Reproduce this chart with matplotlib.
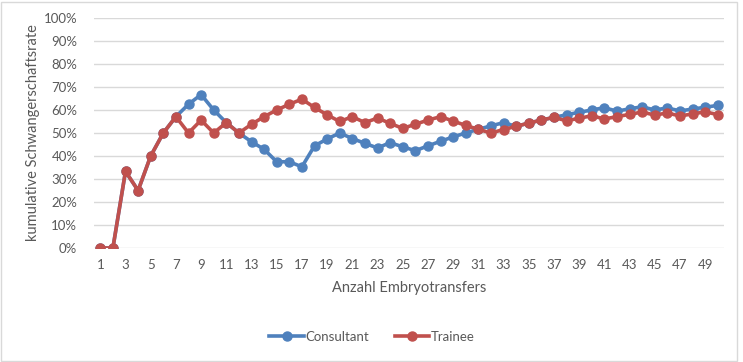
import numpy as np
import matplotlib
matplotlib.use('Agg')
import matplotlib.pyplot as plt
from matplotlib.patches import Rectangle
from matplotlib.ticker import PercentFormatter

plt.rcParams['font.family'] = ['Lato', 'DejaVu Sans']

# Daten (kumulative Rate in %)
transfers = list(range(1, 51))
consultant = [0, 0, 33.3, 25, 40, 50, 57.1, 62.5, 66.7, 60,
              54.5, 50, 46.2, 42.9, 37.5, 37.5, 35.3, 44.4, 47.4, 50,
              47.6, 45.5, 43.5, 45.8, 44, 42.3, 44.4, 46.4, 48.3, 50,
              51.6, 53.1, 54.5, 52.9, 54.3, 55.6, 56.8, 57.9, 59, 60,
              61, 59.5, 60.5, 61.4, 60, 60.9, 59.6, 60.4, 61.2, 62]
trainee = [0, 0, 33.3, 25, 40, 50, 57.1, 50, 55.6, 50,
           54.5, 50, 53.8, 57.1, 60, 62.5, 64.7, 61.1, 57.9, 55,
           57.1, 54.5, 56.5, 54.2, 52, 53.8, 55.6, 57.1, 55.2, 53.3,
           51.6, 50, 51.5, 52.9, 54.3, 55.6, 56.8, 55.3, 56.4, 57.5,
           56.1, 57.1, 58.1, 59.1, 57.8, 58.7, 57.4, 58.3, 59.2, 58]
xticks = transfers[::2]

grau = '#595959'
fig = plt.figure(figsize=(7.43, 3.62), dpi=100)
ax = fig.add_axes([94/743, 1 - 248/362, 630/743, 230/362])

ax.plot(transfers, consultant, color='#4F81BD', lw=2.6, marker='o', ms=6.5,
        label='Consultant', zorder=3)
ax.plot(transfers, trainee, color='#C0504D', lw=2.6, marker='o', ms=6.5,
        label='Trainee', zorder=4)

ax.set_xlim(0.5, 50.5)
ax.set_ylim(0, 100)
ax.set_yticks(np.arange(0, 101, 10))
ax.yaxis.set_major_formatter(PercentFormatter(decimals=0))
ax.set_xticks(xticks)
ax.grid(axis='y', color='#d9d9d9', lw=1)
ax.set_axisbelow(True)
for s in ax.spines.values():
    s.set_visible(False)
ax.tick_params(length=0, colors=grau, labelsize=9.5)
ax.tick_params(axis='y', pad=12)
ax.tick_params(axis='x', pad=8)
ax.set_xlabel('Anzahl Embryotransfers', color=grau, fontsize=10.5, labelpad=7)
ax.set_ylabel('kumulative Schwangerschaftsrate', color=grau, fontsize=10.5, labelpad=3)

leg = fig.legend(loc='center', bbox_to_anchor=(372/743, 1 - 337/362), ncol=2,
                 frameon=False, fontsize=9.5, handlelength=2.6, columnspacing=2,
                 handletextpad=0.1, labelcolor=grau)

fig.patches.append(Rectangle((0.002, 0.004), 0.99, 0.99, transform=fig.transFigure,
                             fill=False, edgecolor='#d9d9d9', lw=1))

plt.savefig('out.png', dpi=100)
